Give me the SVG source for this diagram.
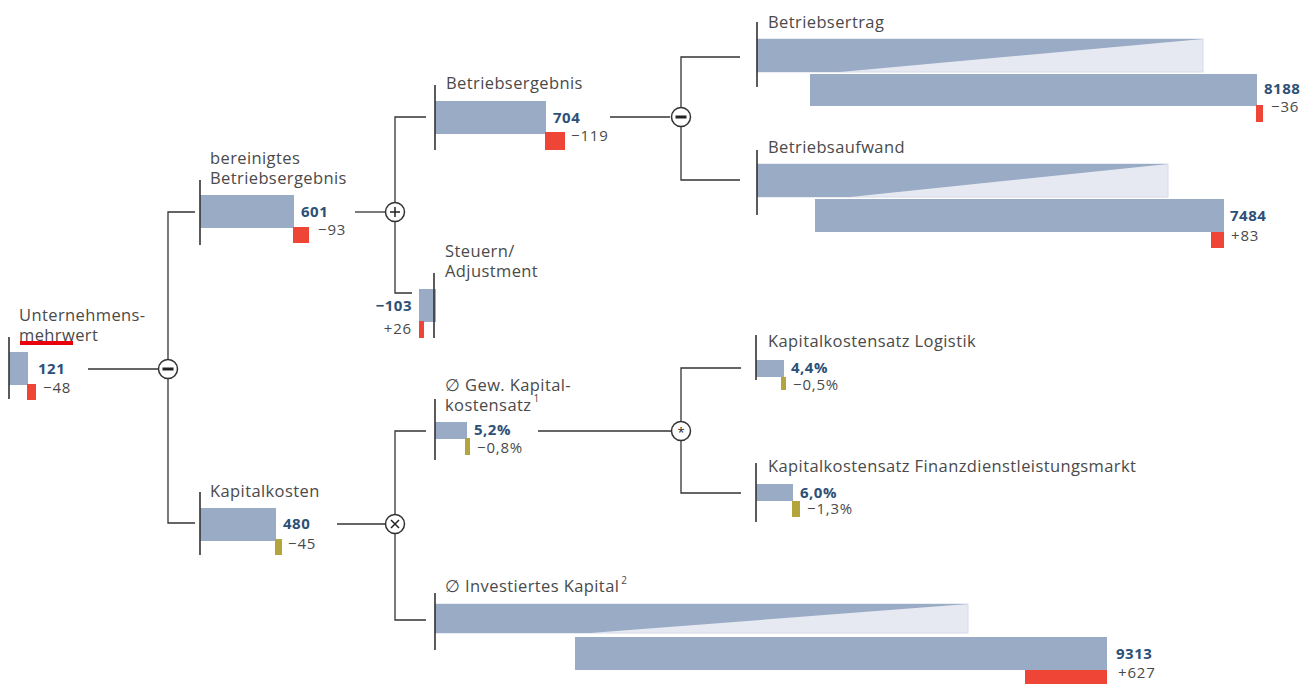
<svg xmlns="http://www.w3.org/2000/svg" width="1315" height="684" viewBox="0 0 1315 684">
<style>
.lbl{font-family:"Open Sans","Noto Sans",sans-serif;font-size:16.5px;letter-spacing:0.4px;fill:#4a4a4a}
.val{font-family:"Open Sans","Noto Sans",sans-serif;font-size:15px;letter-spacing:0.5px;font-weight:bold;fill:#2d5078}
.dlt{font-family:"Open Sans","Noto Sans",sans-serif;font-size:15px;letter-spacing:0.8px;fill:#4a4a4a}
.sup{font-size:10px;letter-spacing:0}
.bar{fill:#9aabc6}
.lite{fill:#e6e9f2;stroke:#d4dae6;stroke-width:1}
.red{fill:#ef4536}
.gold{fill:#b3a43c}
.axis{stroke:#333;stroke-width:1.6;fill:none}
.con{stroke:#333;stroke-width:1.3;fill:none}
.op{fill:#fff;stroke:#333;stroke-width:1.5}
.sym{stroke:#222;stroke-width:1.5;fill:none}
</style>
<rect width="1315" height="684" fill="#fff"/>
<g id="connectors">
<path class="con" d="M88 369H158"/>
<path class="con" d="M195 212H168V523H195"/>
<path class="con" d="M355 212H385"/>
<path class="con" d="M337 524H385"/>
<path class="con" d="M426 117H395V293H412"/>
<path class="con" d="M426 431H395V620H426"/>
<path class="con" d="M610 117H670"/>
<path class="con" d="M740 57H681V180H740"/>
<path class="con" d="M538 431H671"/>
<path class="con" d="M741 368H681V493H741"/>
</g>
<g id="op-minus1"><circle class="op" cx="168" cy="369" r="9.5"/><path d="M162.5 369H173.5" stroke="#222" stroke-width="3"/></g>
<g id="op-plus"><circle class="op" cx="395" cy="212" r="9.5"/><path class="sym" d="M390 212H400M395 207V217"/></g>
<g id="op-times"><circle class="op" cx="395" cy="524" r="9.5"/><path class="sym" d="M391 520L399 528M399 520L391 528"/></g>
<g id="op-minus2"><circle class="op" cx="681" cy="117" r="9.5"/><path d="M675.5 117H686.5" stroke="#222" stroke-width="3"/></g>
<g id="op-star"><circle class="op" cx="681" cy="431" r="9.5"/><text x="681" y="437" text-anchor="middle" font-family="Open Sans,sans-serif" font-size="13" fill="#222">*</text></g>

<g id="n-unternehmensmehrwert">
<text class="lbl" x="19" y="321">Unternehmens-</text>
<text class="lbl" x="19" y="341">mehrwert</text>
<rect x="20" y="341" width="53" height="4" fill="#e8000b"/>
<rect class="bar" x="9" y="352" width="19" height="33"/>
<rect class="red" x="27" y="384" width="9" height="16"/>
<path class="axis" d="M9 337V399"/>
<text class="val" x="38" y="374">121</text>
<text class="dlt" x="43" y="393">−48</text>
</g>

<g id="n-bereinigtes">
<text class="lbl" x="210" y="164">bereinigtes</text>
<text class="lbl" x="210" y="184">Betriebsergebnis</text>
<rect class="bar" x="200" y="195" width="94" height="33"/>
<rect class="red" x="293" y="227" width="16" height="16"/>
<path class="axis" d="M200 180V245"/>
<text class="val" x="301" y="217">601</text>
<text class="dlt" x="318" y="235">−93</text>
</g>

<g id="n-kapitalkosten">
<text class="lbl" x="210" y="497">Kapitalkosten</text>
<rect class="bar" x="200" y="508" width="76" height="33"/>
<rect class="gold" x="275" y="539" width="7" height="16"/>
<path class="axis" d="M200 492V555"/>
<text class="val" x="283" y="529">480</text>
<text class="dlt" x="288" y="549">−45</text>
</g>

<g id="n-betriebsergebnis">
<text class="lbl" x="446" y="89">Betriebsergebnis</text>
<rect class="bar" x="435" y="101" width="111" height="33"/>
<rect class="red" x="545" y="132" width="20" height="18"/>
<path class="axis" d="M435 85V150"/>
<text class="val" x="553" y="123">704</text>
<text class="dlt" x="571" y="141">−119</text>
</g>

<g id="n-steuern">
<text class="lbl" x="445" y="257">Steuern/</text>
<text class="lbl" x="445" y="277">Adjustment</text>
<rect class="bar" x="419" y="289" width="17" height="33"/>
<rect class="red" x="419" y="321" width="5" height="17"/>
<path class="axis" d="M434 273V338"/>
<text class="val" x="412" y="311" text-anchor="end">−103</text>
<text class="dlt" x="412" y="334" text-anchor="end">+26</text>
</g>

<g id="n-gew-kapitalkostensatz">
<text class="lbl" x="445" y="391">∅ Gew. Kapital-</text>
<text class="lbl" x="445" y="411">kostensatz<tspan class="sup" dx="2" dy="-9">1</tspan></text>
<rect class="bar" x="435" y="422" width="32" height="17"/>
<rect class="gold" x="465" y="438" width="5" height="17"/>
<path class="axis" d="M435 399V460"/>
<text class="val" x="474" y="435">5,2%</text>
<text class="dlt" x="477" y="453">−0,8%</text>
</g>

<g id="n-investiertes-kapital">
<text class="lbl" x="445" y="592">∅ Investiertes Kapital<tspan class="sup" dx="2" dy="-8">2</tspan></text>
<rect class="lite" x="435" y="604" width="533" height="29"/>
<polygon class="bar" points="435,604 968,604 590,633 435,633"/>
<rect class="bar" x="575" y="637" width="532" height="33"/>
<rect class="red" x="1025" y="670" width="82" height="14"/>
<path class="axis" d="M435 593V650"/>
<text class="val" x="1116" y="659">9313</text>
<text class="dlt" x="1118" y="678">+627</text>
</g>

<g id="n-betriebsertrag">
<text class="lbl" x="768" y="28">Betriebsertrag</text>
<rect class="lite" x="757" y="39" width="446" height="33"/>
<polygon class="bar" points="757,39 1203,39 840,72 757,72"/>
<rect class="bar" x="810" y="74" width="447" height="32"/>
<rect class="red" x="1256" y="105" width="7" height="17"/>
<path class="axis" d="M757 22V87"/>
<text class="val" x="1264" y="94">8188</text>
<text class="dlt" x="1271" y="112">−36</text>
</g>

<g id="n-betriebsaufwand">
<text class="lbl" x="768" y="153">Betriebsaufwand</text>
<rect class="lite" x="757" y="164" width="411" height="33"/>
<polygon class="bar" points="757,164 1168,164 850,197 757,197"/>
<rect class="bar" x="815" y="199" width="409" height="33"/>
<rect class="red" x="1211" y="232" width="13" height="16"/>
<path class="axis" d="M757 150V215"/>
<text class="val" x="1230" y="221">7484</text>
<text class="dlt" x="1231" y="241">+83</text>
</g>

<g id="n-kks-logistik">
<text class="lbl" x="768" y="347">Kapitalkostensatz Logistik</text>
<rect class="bar" x="756" y="360" width="28" height="17"/>
<rect class="gold" x="781" y="377" width="5" height="13"/>
<path class="axis" d="M756 335V380"/>
<text class="val" x="791" y="373">4,4%</text>
<text class="dlt" x="793" y="390">−0,5%</text>
</g>

<g id="n-kks-finanz">
<text class="lbl" x="768" y="472">Kapitalkostensatz Finanzdienstleistungsmarkt</text>
<rect class="bar" x="756" y="484" width="37" height="17"/>
<rect class="gold" x="792" y="501" width="8" height="16"/>
<path class="axis" d="M756 463V522"/>
<text class="val" x="800" y="498">6,0%</text>
<text class="dlt" x="807" y="514">−1,3%</text>
</g>
</svg>
